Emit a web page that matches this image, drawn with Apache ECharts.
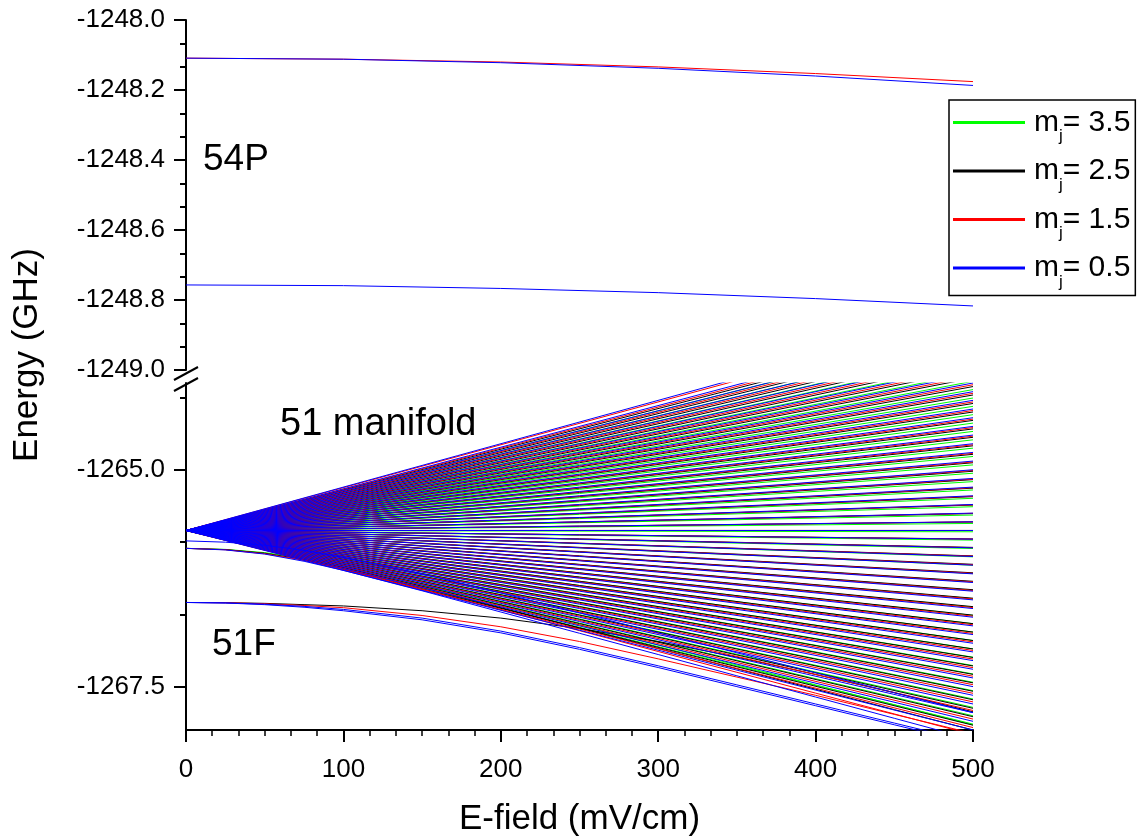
<!DOCTYPE html>
<html>
<head>
<meta charset="utf-8">
<title>Stark map 51 manifold / 54P</title>
<script src="https://cdn.jsdelivr.net/npm/echarts@6/dist/echarts.min.js"></script>
<style>
  html, body { margin: 0; padding: 0; background: #fff; }
  #chart { width: 1142px; height: 838px; }
</style>
</head>
<body>
<div id="chart"></div>
<script>
// ---- field grid (mV/cm) ----
const fieldKnots = [0, 25, 50, 75, 100, 150, 200, 250, 300, 350, 400, 450, 500];
const fieldKnots54 = [0, 100, 200, 300, 400, 500];
const fieldMax = 500;

// ---- x tick labels ----
const xTicks = [0, 100, 200, 300, 400, 500];

// ---- 54P levels (GHz) at fieldKnots54 ----
const p32Red  = [-1248.109, -1248.112, -1248.120, -1248.134, -1248.153, -1248.176];
const p32Blue = [-1248.109, -1248.112, -1248.122, -1248.138, -1248.160, -1248.187];
const p12Blue = [-1248.757, -1248.759, -1248.767, -1248.779, -1248.796, -1248.817];

// ---- 51F levels (GHz) at fieldKnots ----
const f51Black = [-1266.530, -1266.532, -1266.540, -1266.555, -1266.570, -1266.625, -1266.710, -1266.830, -1266.980, -1267.160, -1267.360, -1267.570, -1267.790];
const f51Red   = [-1266.530, -1266.533, -1266.545, -1266.565, -1266.590, -1266.680, -1266.810, -1266.980, -1267.180, -1267.390, -1267.600, -1267.820, -1268.040];
const f51Blue  = [-1266.530, -1266.535, -1266.550, -1266.575, -1266.610, -1266.710, -1266.860, -1267.050, -1267.260, -1267.480, -1267.700, -1267.920, -1268.140];
const f51Blue2 = [-1266.530, -1266.536, -1266.555, -1266.585, -1266.625, -1266.730, -1266.880, -1267.070, -1267.280, -1267.500, -1267.720, -1267.940, -1268.160];

// ---- 51G levels (GHz) at fieldKnots ----
const g51Green = [-1265.906, -1265.918, -1265.955, -1266.022, -1266.112, -1266.330, -1266.560, -1266.790, -1267.020, -1267.250, -1267.480, -1267.710, -1267.940];
const g51Black = [-1265.906, -1265.920, -1265.962, -1266.035, -1266.130, -1266.355, -1266.590, -1266.825, -1267.060, -1267.295, -1267.530, -1267.765, -1268.000];
const g51Red   = [-1265.906, -1265.922, -1265.968, -1266.045, -1266.145, -1266.375, -1266.615, -1266.855, -1267.095, -1267.335, -1267.575, -1267.815, -1268.055];
const g51Blue  = [-1265.906, -1265.924, -1265.972, -1266.055, -1266.160, -1266.395, -1266.640, -1266.885, -1267.130, -1267.375, -1267.620, -1267.865, -1268.110];
const h51Blue  = [-1265.820, -1265.835, -1265.870, -1265.930, -1266.010, -1266.200, -1266.420, -1266.650, -1266.880, -1267.110, -1267.340, -1267.570, -1267.800];

// ---- 51 manifold: zero-field energy and energies at 500 mV/cm (GHz) ----
const manifoldZeroField = -1265.70;
const fanEndBlue = [
  -1263.200, -1263.300, -1263.400, -1263.500, -1263.600, -1263.700, -1263.800, -1263.900, -1264.000, -1264.100,
  -1264.200, -1264.300, -1264.400, -1264.500, -1264.600, -1264.700, -1264.800, -1264.900, -1265.000, -1265.100,
  -1265.200, -1265.300, -1265.400, -1265.500, -1265.600, -1265.700, -1265.800, -1265.900, -1266.000, -1266.100,
  -1266.200, -1266.300, -1266.400, -1266.500, -1266.600, -1266.700, -1266.800, -1266.900, -1267.000, -1267.100,
  -1267.200, -1267.300, -1267.400, -1267.500, -1267.600, -1267.700, -1267.800, -1267.900, -1268.000
];
const fanEndRed = [
  -1263.230, -1263.329, -1263.428, -1263.526, -1263.625, -1263.724, -1263.823, -1263.922, -1264.020, -1264.119,
  -1264.218, -1264.317, -1264.416, -1264.514, -1264.613, -1264.712, -1264.811, -1264.910, -1265.008, -1265.107,
  -1265.206, -1265.305, -1265.404, -1265.502, -1265.601, -1265.700, -1265.799, -1265.898, -1265.996, -1266.095,
  -1266.194, -1266.293, -1266.392, -1266.490, -1266.589, -1266.688, -1266.787, -1266.886, -1266.984, -1267.083,
  -1267.182, -1267.281, -1267.380, -1267.478, -1267.577, -1267.676, -1267.775, -1267.874, -1267.972
];
const fanEndBlack = [
  -1263.358, -1263.455, -1263.553, -1263.650, -1263.748, -1263.846, -1263.943, -1264.041, -1264.138,
  -1264.236, -1264.334, -1264.431, -1264.529, -1264.626, -1264.724, -1264.822, -1264.919, -1265.017, -1265.114,
  -1265.212, -1265.310, -1265.407, -1265.505, -1265.602, -1265.700, -1265.798, -1265.895, -1265.993, -1266.090,
  -1266.188, -1266.286, -1266.383, -1266.481, -1266.578, -1266.676, -1266.774, -1266.871, -1266.969, -1267.066,
  -1267.164, -1267.262, -1267.359, -1267.457, -1267.554, -1267.652, -1267.750, -1267.847, -1267.945
];
const fanEndGreen = [
  -1263.401, -1263.498, -1263.594, -1263.691, -1263.787, -1263.883, -1263.980, -1264.076, -1264.173,
  -1264.269, -1264.365, -1264.462, -1264.558, -1264.655, -1264.751, -1264.847, -1264.944, -1265.040, -1265.137,
  -1265.233, -1265.329, -1265.426, -1265.522, -1265.619, -1265.715, -1265.811, -1265.908, -1266.004, -1266.101,
  -1266.197, -1266.293, -1266.390, -1266.486, -1266.583, -1266.679, -1266.775, -1266.872, -1266.968, -1267.065,
  -1267.161, -1267.257, -1267.354, -1267.450, -1267.547, -1267.643, -1267.739, -1267.836, -1267.932
];

// ---- legend entries (m_j values) ----
const mjNames = ['3.5', '2.5', '1.5', '0.5'];

const COLORS = { '3.5': '#00ff00', '2.5': '#000000', '1.5': '#ff0000', '0.5': '#0000ff' };
const FONT = '"Liberation Sans", Arial, Helvetica, sans-serif';

function fanItems(ends) {
  return ends.map(e => ({ coords: [[0, manifoldZeroField], [fieldMax, e]] }));
}
function curveItem(values, knots) {
  return { coords: knots.map((x, i) => [x, values[i]]) };
}
function levelSeries(name, gridIdx, items) {
  return {
    type: 'lines',
    name: name,
    coordinateSystem: 'cartesian2d',
    xAxisIndex: gridIdx,
    yAxisIndex: gridIdx,
    polyline: true,
    clip: true,
    silent: true,
    animation: false,
    lineStyle: { color: COLORS[name], width: 1, opacity: 1 },
    data: items
  };
}

const series = [
  // lower panel: 51 manifold, 51G, 51F
  levelSeries('3.5', 1, [...fanItems(fanEndGreen), curveItem(g51Green, fieldKnots)]),
  levelSeries('2.5', 1, [...fanItems(fanEndBlack), curveItem(g51Black, fieldKnots), curveItem(f51Black, fieldKnots)]),
  levelSeries('1.5', 1, [...fanItems(fanEndRed), curveItem(g51Red, fieldKnots), curveItem(f51Red, fieldKnots)]),
  levelSeries('0.5', 1, [...fanItems(fanEndBlue), curveItem(h51Blue, fieldKnots), curveItem(g51Blue, fieldKnots),
                         curveItem(f51Blue, fieldKnots), curveItem(f51Blue2, fieldKnots)]),
  // upper panel: 54P
  levelSeries('1.5', 0, [curveItem(p32Red, fieldKnots54)]),
  levelSeries('0.5', 0, [curveItem(p32Blue, fieldKnots54), curveItem(p12Blue, fieldKnots54)])
];

const axisLineStyle = { color: '#000', width: 2 };
const labelStyle = { color: '#000', fontSize: 26, fontFamily: FONT };

const option = {
  backgroundColor: '#fff',
  animation: false,
  grid: [
    { left: 186, top: 20, width: 787, height: 350 },
    { left: 186, top: 383, width: 787, height: 353 }
  ],
  xAxis: [
    { gridIndex: 0, type: 'value', min: 0, max: fieldMax, show: false },
    {
      gridIndex: 1, type: 'value', min: 0, max: fieldMax, interval: 100,
      axisLine: { show: true, onZero: false, lineStyle: axisLineStyle },
      axisTick: { show: true, inside: false, length: 12, lineStyle: { color: '#000', width: 2 } },
      minorTick: { show: true, splitNumber: 6, length: 6, lineStyle: { color: '#000', width: 1.5 } },
      splitLine: { show: false },
      axisLabel: Object.assign({ margin: 27, customValues: xTicks }, labelStyle),
      name: 'E-field (mV/cm)', nameLocation: 'middle', nameGap: 72,
      nameTextStyle: { color: '#000', fontSize: 35, fontFamily: FONT }
    }
  ],
  yAxis: [
    {
      gridIndex: 0, type: 'value', min: -1249, max: -1248, interval: 0.2,
      axisLine: { show: true, onZero: false, lineStyle: axisLineStyle },
      axisTick: { show: true, inside: false, length: 12, lineStyle: { color: '#000', width: 2 } },
      minorTick: { show: true, splitNumber: 3, length: 6, lineStyle: { color: '#000', width: 2 } },
      splitLine: { show: false },
      axisLabel: Object.assign({ margin: 21, formatter: v => v.toFixed(1) }, labelStyle)
    },
    {
      gridIndex: 1, type: 'value', min: -1268, max: -1264,
      axisLine: { show: true, onZero: false, lineStyle: axisLineStyle },
      axisTick: { show: true, inside: false, length: 12, lineStyle: { color: '#000', width: 2 },
                  customValues: [-1267.5, -1265.0] },
      splitLine: { show: false },
      axisLabel: Object.assign({ margin: 21, customValues: [-1267.5, -1265.0], formatter: v => v.toFixed(1) }, labelStyle)
    },
    {
      // minor ticks of the lower segment
      gridIndex: 1, type: 'value', min: -1268, max: -1264, position: 'left',
      axisLine: { show: false },
      axisTick: { show: true, inside: false, length: 6, lineStyle: { color: '#000', width: 2 },
                  customValues: [-1266.6667, -1265.8333, -1264.1667] },
      axisLabel: { show: false },
      splitLine: { show: false }
    }
  ],
  legend: {
    orient: 'vertical',
    left: 949,
    top: 100,
    padding: [0, 5, 5, 4],
    itemGap: 3.5,
    itemWidth: 70,
    itemHeight: 1,
    borderColor: '#000',
    borderWidth: 1.5,
    selectedMode: false,
    data: mjNames.map(n => ({
      name: n,
      icon: 'rect',
      itemStyle: { color: n === '2.5' ? '#707070' : COLORS[n] }
    })),
    formatter: name => '{m|m}{j|j}{v|= ' + name + '}',
    textStyle: {
      color: '#000',
      fontFamily: FONT,
      rich: {
        m: { fontSize: 30, fontFamily: FONT, lineHeight: 40, padding: [0, 0, 0, 5] },
        j: { fontSize: 17, fontFamily: FONT, lineHeight: 12, padding: [28, 0, 0, 0] },
        v: { fontSize: 30, fontFamily: FONT, lineHeight: 40 }
      }
    }
  },
  graphic: [
    { type: 'text', x: 203, y: 160, style: { text: '54P', fontSize: 37, fontFamily: FONT, fill: '#000', verticalAlign: 'middle' } },
    { type: 'text', x: 280, y: 425, style: { text: '51 manifold', fontSize: 38, fontFamily: FONT, fill: '#000', verticalAlign: 'middle' } },
    { type: 'text', x: 212, y: 645, style: { text: '51F', fontSize: 37, fontFamily: FONT, fill: '#000', verticalAlign: 'middle' } },
    { type: 'text', x: 27, y: 355, rotation: Math.PI / 2,
      style: { text: 'Energy (GHz)', fontSize: 35, fontFamily: FONT, fill: '#000', align: 'center', verticalAlign: 'middle' } },
    // axis break marks
    { type: 'rect', shape: { x: 180, y: 371, width: 12, height: 11 }, style: { fill: '#fff' }, z: 100 },
    { type: 'line', shape: { x1: 174, y1: 380, x2: 198, y2: 367 }, style: { stroke: '#000', lineWidth: 2 }, z: 101 },
    { type: 'line', shape: { x1: 174, y1: 391, x2: 198, y2: 378 }, style: { stroke: '#000', lineWidth: 2 }, z: 101 }
  ],
  series: series
};

const chart = echarts.init(document.getElementById('chart'), null, { renderer: 'canvas' });
chart.setOption(option);
</script>
</body>
</html>
